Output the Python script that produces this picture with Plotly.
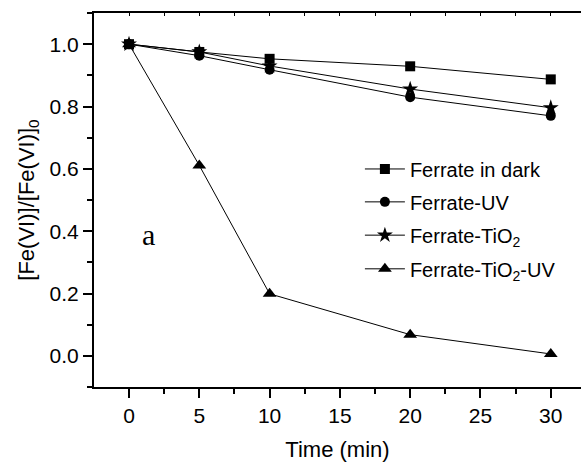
import plotly.graph_objects as go

time_min = [0, 5, 10, 20, 30]
dark = [1.0, 0.975, 0.953, 0.929, 0.887]
uv = [1.0, 0.963, 0.918, 0.830, 0.770]
tio2 = [1.0, 0.975, 0.930, 0.856, 0.796]
tio2_uv = [1.0, 0.611, 0.199, 0.068, 0.006]

names = ["Ferrate in dark", "Ferrate-UV", "Ferrate-TiO<sub>2</sub>", "Ferrate-TiO<sub>2</sub>-UV"]
series = [dark, uv, tio2, tio2_uv]
symbols = ["square", "circle", "star", "triangle-up"]
sizes = [10, 10, 12, 12]
legend_ids = ["legend", "legend2", "legend3", "legend4"]
legend_y = [0.583, 0.495, 0.406, 0.316]

fig = go.Figure()
for n, s, sym, sz, lg in zip(names, series, symbols, sizes, legend_ids):
    fig.add_trace(go.Scatter(
        x=time_min, y=s, name=n, mode="lines+markers", legend=lg,
        line=dict(color="black", width=1),
        marker=dict(symbol=sym, size=sz, color="black"),
    ))

sans = "Liberation Sans, Arial, sans-serif"
tickfont = dict(family=sans, size=21, color="black")

legend_font = dict(size=20, color="black", family=sans)
legends = {}
for lg, ly in zip(legend_ids, legend_y):
    legends[lg] = dict(x=0.546, y=ly, xanchor="left", yanchor="middle",
                       bgcolor="rgba(0,0,0,0)", font=legend_font, itemwidth=40)

fig.update_layout(
    width=581, height=466,
    margin=dict(l=94, r=0, t=13, b=79),
    plot_bgcolor="white", paper_bgcolor="white",
    font=dict(family=sans, size=20, color="black"),
    showlegend=True,
    **legends,
    xaxis=dict(range=[-2.49, 32.15], tickvals=[0, 5, 10, 15, 20, 25, 30],
               ticks="outside", ticklen=9, tickwidth=1.5, tickcolor="black",
               tickfont=tickfont,
               showline=True, linecolor="black", linewidth=2,
               showgrid=False, zeroline=False,
               minor=dict(dtick=2.5, tick0=0, ticks="outside", ticklen=5, tickwidth=1.5, tickcolor="black"),
               title=dict(text="Time (min)", font=dict(family=sans, size=22, color="black"), standoff=15)),
    xaxis2=dict(range=[-2.49, 32.15], overlaying="x", side="top", matches="x",
                tickvals=[-2.5, 0, 2.5, 5, 7.5, 10, 12.5, 15, 17.5, 20, 22.5, 25, 27.5, 30],
                ticks="inside", ticklen=3, tickwidth=1, tickcolor="black",
                showticklabels=False, showline=True, linecolor="black", linewidth=2,
                showgrid=False, zeroline=False),
    yaxis=dict(range=[-0.1, 1.1], tickvals=[0.0, 0.2, 0.4, 0.6, 0.8, 1.0],
               tickformat=".1f", tickfont=tickfont,
               ticks="outside", ticklen=9, tickwidth=1.5, tickcolor="black",
               showline=True, linecolor="black", linewidth=2,
               showgrid=False, zeroline=False,
               minor=dict(dtick=0.1, tick0=0, ticks="outside", ticklen=5, tickwidth=1.5, tickcolor="black"),
               title=dict(text="[Fe(VI)]/[Fe(VI)]<sub>0</sub>",
                          font=dict(family=sans, size=22, color="black"), standoff=9)),
)

fig.add_trace(go.Scatter(x=[None], y=[None], xaxis="x2", showlegend=False))

fig.add_annotation(x=1.4, y=0.39, xref="x", yref="y", text="a", showarrow=False,
                   font=dict(family="Liberation Serif, Times New Roman, serif", size=30, color="black"))

fig.write_html("out.html")
